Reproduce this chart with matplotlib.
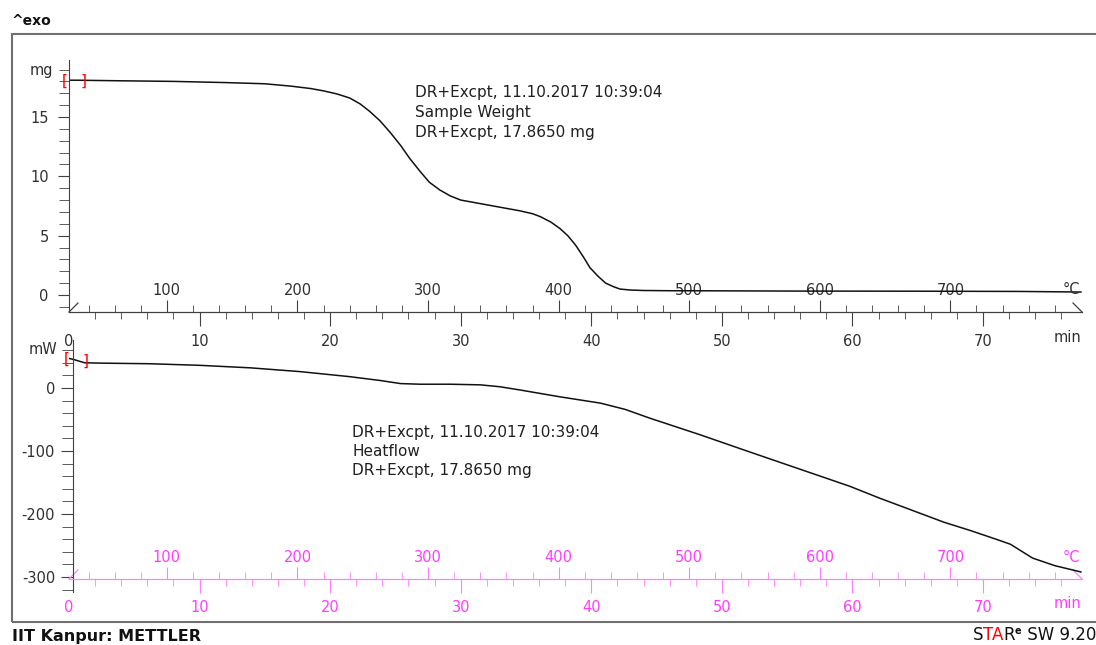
import numpy as np
import matplotlib.pyplot as plt
from matplotlib.ticker import FixedLocator, MultipleLocator
from matplotlib.patches import Rectangle
from matplotlib.offsetbox import TextArea, HPacker, AnchoredOffsetbox

# TGA curve: time (min) vs sample weight (mg)
tga_time = [0, 0.6, 4, 8, 12, 15, 17, 18.5, 19.5, 20.5, 21.5, 22.3, 23.0, 23.8,
            24.6, 25.4, 26.1, 26.9, 27.6, 28.4, 29.2, 30.0, 31.5, 33.0, 34.5,
            35.5, 36.1, 36.9, 37.6, 38.2, 38.8, 39.4, 39.9, 40.5, 41.1, 41.7,
            42.2, 43.0, 44, 46, 50, 56, 65, 72.8, 77.5]
tga_mass = [18.1, 18.1, 18.05, 18.0, 17.9, 17.8, 17.6, 17.4, 17.2, 16.95, 16.6,
            16.1, 15.5, 14.7, 13.7, 12.6, 11.5, 10.4, 9.5, 8.85, 8.35, 8.0, 7.7,
            7.4, 7.1, 6.85, 6.6, 6.15, 5.6, 5.0, 4.2, 3.2, 2.3, 1.6, 1.0, 0.7,
            0.5, 0.42, 0.38, 0.36, 0.35, 0.33, 0.32, 0.3, 0.25]

# DSC curve: time (min) vs heat flow (mW)
dsc_time = [0, 0.4, 1.2, 2.4, 6.2, 10.0, 13.9, 17.7, 21.5, 23.8, 25.4, 26.9,
            29.2, 31.5, 33.0, 34.5, 37.6, 40.7, 42.6, 44.5, 46.4, 48.3, 52.2,
            56.0, 59.8, 62.1, 65.2, 67.0, 69.0, 71.0, 72.1, 73.8, 75.5, 77.5]
dsc_flow = [47, 45, 40, 39.5, 38.5, 36, 32, 26, 18, 12, 7, 6, 6, 5, 2, -3, -14,
            -24, -34, -48, -61, -74, -102, -129, -156, -175, -199, -213, -226,
            -240, -248, -270, -282, -292]

time_major = [0, 10, 20, 30, 40, 50, 60, 70]
temp_major = [100, 200, 300, 400, 500, 600, 700]
temp_minor = [T for T in range(40, 800, 20) if T % 100]

T0, rate = 25.0, 10.0   # start temperature, K/min

W, H = 1096, 645
plt.rcParams['font.family'] = 'DejaVu Sans'
plt.rcParams['axes.unicode_minus'] = False
fig = plt.figure(figsize=(W / 100, H / 100), dpi=100)

t_end = (1082 - 69) / 13.057
axis_col = '#404040'
text_col = '#303030'
pink_line = '#ff80ff'
pink_text = '#ff3cff'


def t2T(t):
    return T0 + rate * np.asarray(t)


def T2t(T):
    return (np.asarray(T) - T0) / rate


def setup_panel(ax, ylim, base, col_line, col_text, major, minor):
    ax.patch.set_visible(False)
    ax.set_xlim(0, t_end)
    ax.set_ylim(*ylim)
    for s in ['top', 'right']:
        ax.spines[s].set_visible(False)
    ax.spines['left'].set_color(axis_col)
    ax.spines['bottom'].set_color(col_line)
    ax.spines['bottom'].set_position(('data', base))
    ax.yaxis.set_major_locator(MultipleLocator(major))
    ax.yaxis.set_minor_locator(MultipleLocator(minor))
    ax.tick_params(axis='y', which='both', colors=axis_col, labelcolor=text_col,
                   labelsize=10.5)
    # time axis
    ax.set_xticks(time_major)
    ax.xaxis.set_minor_locator(MultipleLocator(2))
    ax.tick_params(axis='x', which='major', length=10, pad=5.5,
                   colors=col_line, labelcolor=col_text, labelsize=10.5)
    ax.tick_params(axis='x', which='minor', length=5, colors=col_line)
    ax.xaxis.get_major_ticks()[0].tick1line.set_visible(False)
    # temperature axis
    loc = (base - ylim[0]) / (ylim[1] - ylim[0])
    sec = ax.secondary_xaxis(loc, functions=(t2T, T2t))
    sec.xaxis.set_major_locator(FixedLocator(temp_major))
    sec.xaxis.set_minor_locator(FixedLocator(temp_minor))
    sec.tick_params(axis='x', which='major', direction='in', length=9,
                    pad=-21, colors=col_line, labelcolor=col_text,
                    labelsize=10.5)
    sec.tick_params(axis='x', which='minor', direction='in', length=5,
                    colors=col_line)
    sec.spines['bottom'].set_color(col_line)
    # end marks of the time/temperature axis
    ppu_x = 1013 / t_end
    ppu_y = 252 / (ylim[1] - ylim[0])
    dx, dy = 9 / ppu_x, 9 / ppu_y
    ax.plot([0, dx], [base, base + dy], color=col_line, lw=0.9, clip_on=False)
    ax.plot([t_end - dx, t_end], [base + dy, base], color=col_line, lw=0.9,
            clip_on=False)
    return sec


# top panel: sample weight
ax1 = fig.add_axes([69 / W, 1 - 312 / H, 1013 / W, 252 / H])
ylim1 = (-17 / 11.867, 235 / 11.867)
setup_panel(ax1, ylim1, ylim1[0], axis_col, text_col, 5, 1)
ax1.tick_params(axis='y', which='major', length=8, pad=6.5)
ax1.tick_params(axis='y', which='minor', length=7)
ax1.plot(tga_time, tga_mass, color='#111111', lw=1.1)
ax1.text(-0.31, 18.0, '[', color='red', fontsize=11, ha='center', va='center')
ax1.text(1.15, 18.0, ']', color='red', fontsize=11, ha='center', va='center')
ax1.text(-16 / 1013, (312 - 71) / 252, 'mg', transform=ax1.transAxes,
         ha='right', va='center', fontsize=10.5, color=text_col)
ax1.text(0.990, 22 / 252, '°C', transform=ax1.transAxes, ha='center',
         va='center', fontsize=10.5, color=text_col)
ax1.text(0.986, -25 / 252, 'min', transform=ax1.transAxes, ha='center',
         va='center', fontsize=10.5, color=text_col)

# bottom panel: heat flow
ax2 = fig.add_axes([69 / W, 1 - 592 / H, 1013 / W, 252 / H])
ylim2 = ((388 - 592) / 0.63, (388 - 340) / 0.63)
setup_panel(ax2, ylim2, -303, pink_line, pink_text, 100, 20)
ax2.spines['left'].set_position(('outward', -3))
ax2.tick_params(axis='y', which='major', length=9, pad=4)
ax2.tick_params(axis='y', which='minor', length=8)
ax2.plot(dsc_time, dsc_flow, color='#111111', lw=1.1)
ax2.text(-0.2, 46, '[', color='red', fontsize=11, ha='center', va='center')
ax2.text(1.25, 42, ']', color='red', fontsize=11, ha='center', va='center')
ax2.text(-12 / 1013, (592 - 350) / 252, 'mW', transform=ax2.transAxes,
         ha='right', va='center', fontsize=10.5, color=text_col)
ax2.text(0.990, (592 - 558) / 252, '°C', transform=ax2.transAxes, ha='center',
         va='center', fontsize=10.5, color=pink_text)
ax2.text(0.986, (592 - 603) / 252, 'min', transform=ax2.transAxes, ha='center',
         va='center', fontsize=10.5, color=pink_text)

# curve annotations
top_note = ['DR+Excpt, 11.10.2017 10:39:04', 'Sample Weight',
            'DR+Excpt, 17.8650 mg']
bot_note = ['DR+Excpt, 11.10.2017 10:39:04', 'Heatflow',
            'DR+Excpt, 17.8650 mg']
for i, s in enumerate(top_note):
    fig.text(415 / W, 1 - (93 + 20 * i) / H, s, fontsize=11, va='center',
             color='#202020')
for i, s in enumerate(bot_note):
    fig.text(352 / W, 1 - (432 + 19.5 * i) / H, s, fontsize=11, va='center',
             color='#202020')

# frame and page texts
fig.add_artist(Rectangle((12 / W, 1 - 622 / H), 1.1, (622 - 34) / H,
                         transform=fig.transFigure, fill=False,
                         ec='#707070', lw=1.5))
fig.text(12 / W, 1 - 21 / H, '^exo', fontsize=10, fontweight='bold',
         va='center', color='#111111')
fig.text(12 / W, 1 - 637 / H, 'IIT Kanpur: METTLER', fontsize=11.5,
         fontweight='bold', va='center', color='#111111')

parts = [TextArea('S', textprops=dict(fontsize=12, color='#111111')),
         TextArea('TA', textprops=dict(fontsize=12, color='red')),
         TextArea('R', textprops=dict(fontsize=12, color='#111111')),
         TextArea('e', textprops=dict(fontsize=7, color='#111111',
                                      fontweight='bold')),
         TextArea(' SW 9.20', textprops=dict(fontsize=12, color='#111111'))]
logo = HPacker(children=parts, sep=0, pad=0, align='top')
fig.add_artist(AnchoredOffsetbox(loc='lower right', child=logo, pad=0,
                                 borderpad=0, frameon=False,
                                 bbox_to_anchor=(1096 / W, 1 / H),
                                 bbox_transform=fig.transFigure))

fig.savefig('out.png', dpi=100)
